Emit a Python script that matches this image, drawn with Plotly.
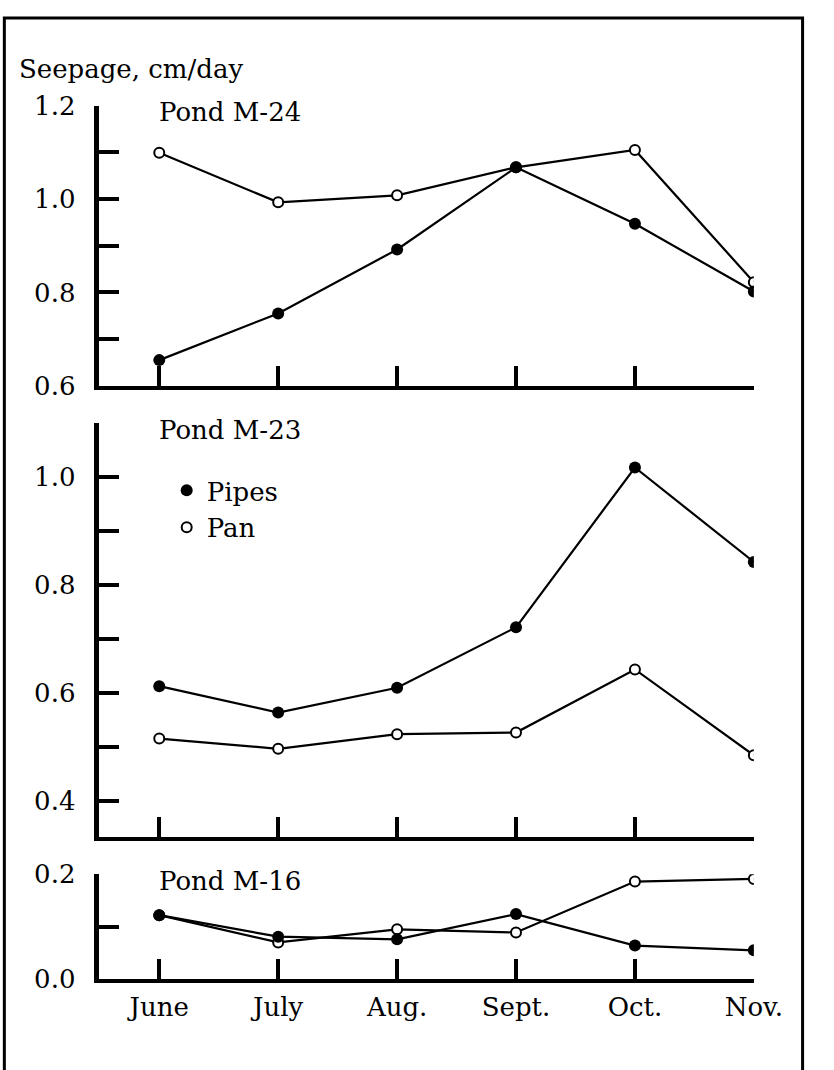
import plotly.graph_objects as go

W, H = 834, 1070
FONT = "DejaVu Serif"

months = ["June", "July", "Aug.", "Sept.", "Oct.", "Nov."]

# Seepage, cm/day
m24_pipes = [0.655, 0.755, 0.892, 1.068, 0.947, 0.802]
m24_pan = [1.099, 0.993, 1.008, 1.068, 1.105, 0.822]
m23_pipes = [0.613, 0.564, 0.610, 0.722, 1.018, 0.843]
m23_pan = [0.516, 0.497, 0.524, 0.527, 0.644, 0.485]
m16_pipes = [0.122, 0.081, 0.076, 0.124, 0.064, 0.055]
m16_pan = [0.122, 0.070, 0.095, 0.089, 0.186, 0.191]

m24_ticks = [0.6, 0.7, 0.8, 0.9, 1.0, 1.1, 1.2]
m24_labels = ["0.6", "", "0.8", "", "1.0", "", "1.2"]
m23_ticks = [0.4, 0.5, 0.6, 0.7, 0.8, 0.9, 1.0, 1.1]
m23_labels = ["0.4", "", "0.6", "", "0.8", "", "1.0", ""]
m16_ticks = [0.0, 0.1, 0.2]
m16_labels = ["0.0", "", "0.2"]

# panel: title, pipes, pan, y-range, ticks, labels, top px, bottom px
panels = [
    ("Pond M-24", m24_pipes, m24_pan, [0.6, 1.2], m24_ticks, m24_labels, 93.3, 381.5),
    ("Pond M-23", m23_pipes, m23_pan, [0.334, 1.1], m23_ticks, m23_labels, 420.0, 845.5),
    ("Pond M-16", m16_pipes, m16_pan, [0.0, 0.2], m16_ticks, m16_labels, 884.0, 992.0),
]

X_LEFT_PX, X_RIGHT_PX = 103.0, 781.0
x_domain = [X_LEFT_PX / W, X_RIGHT_PX / W]
x_range = [-(165 - X_LEFT_PX) / 123.2, 5.0]


def py(px):
    return 1 - px / H


fig = go.Figure()
layout = dict(
    width=W, height=H,
    margin=dict(l=0, r=0, t=0, b=0),
    paper_bgcolor="white", plot_bgcolor="white",
    font=dict(family=FONT, size=26, color="black"),
    showlegend=True,
)

annotations = []
for i, (title, pipes, pan, yr, tv, tt, top, bot) in enumerate(panels):
    n = "" if i == 0 else str(i + 1)
    xa, ya = "x" + n, "y" + n
    fig.add_trace(go.Scatter(
        x=months, y=pan, xaxis=xa, yaxis=ya, mode="lines+markers",
        line=dict(color="black", width=2.2),
        marker=dict(symbol="circle", size=10, color="white",
                    line=dict(color="black", width=2)),
        showlegend=False,
    ))
    fig.add_trace(go.Scatter(
        x=months, y=pipes, xaxis=xa, yaxis=ya, mode="lines+markers",
        line=dict(color="black", width=2.2),
        marker=dict(symbol="circle", size=12, color="black"),
        showlegend=False,
    ))
    last = i == len(panels) - 1
    layout["xaxis" + n] = dict(
        domain=x_domain, range=x_range, anchor=ya, type="category",
        showline=True, linecolor="black", linewidth=4,
        ticks="inside", ticklen=20, tickwidth=3.5, tickcolor="black",
        showticklabels=last, showgrid=False, zeroline=False,
        tickfont=dict(family=FONT, size=26, color="black"),
        ticklabelstandoff=2,
    )
    layout["yaxis" + n] = dict(
        domain=[py(bot), py(top)], range=yr, anchor=xa,
        showline=True, linecolor="black", linewidth=4.5,
        ticks="inside", ticklen=20, tickwidth=4, tickcolor="black",
        tickvals=tv, ticktext=tt, showgrid=False, zeroline=False,
        tickfont=dict(family=FONT, size=26, color="black"),
        ticklabelstandoff=14,
    )
    annotations.append(dict(
        text=title, xref="paper", yref="paper",
        x=163 / W, y=py(top + 7), xanchor="left", yanchor="middle",
        showarrow=False, font=dict(family=FONT, size=26, color="black"),
    ))

# legend entries shown inside the middle panel
fig.add_trace(go.Scatter(
    x=[None], y=[None], xaxis="x2", yaxis="y2", mode="markers", name="Pipes",
    marker=dict(symbol="circle", size=12, color="black"),
))
fig.add_trace(go.Scatter(
    x=[None], y=[None], xaxis="x2", yaxis="y2", mode="markers", name="Pan",
    marker=dict(symbol="circle", size=10, color="white",
                line=dict(color="black", width=2)),
))
layout["legend"] = dict(
    x=(192.7 - 20) / W, y=py(465), xanchor="left", yanchor="top",
    bgcolor="rgba(0,0,0,0)", borderwidth=0,
    font=dict(family=FONT, size=26, color="black"),
    itemclick=False, itemdoubleclick=False,
)

annotations.append(dict(
    text="Seepage, cm/day", xref="paper", yref="paper",
    x=18 / W, y=py(56), xanchor="left", yanchor="middle",
    showarrow=False, font=dict(family=FONT, size=26, color="black"),
))
layout["annotations"] = annotations

# frame around the figure (open at the bottom edge)
layout["shapes"] = [dict(
    type="rect", xref="paper", yref="paper",
    x0=4.5 / W, x1=831.5 / W, y0=-0.02, y1=py(3),
    line=dict(color="black", width=3), fillcolor="rgba(0,0,0,0)",
)]

fig.update_layout(**layout)
fig.write_html("out.html")
